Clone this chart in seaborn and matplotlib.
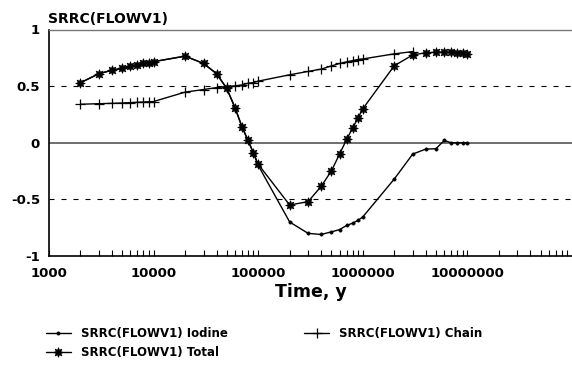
import matplotlib
matplotlib.use("Agg")
import matplotlib.pyplot as plt
from matplotlib.lines import Line2D
from matplotlib.ticker import FixedLocator, FixedFormatter, LogLocator, NullFormatter
import numpy as np
import pandas as pd
import seaborn as sns

# ---- data ----
times = [2e3, 3e3, 4e3, 5e3, 6e3, 7e3, 8e3, 9e3, 1e4,
         2e4, 3e4, 4e4, 5e4, 6e4, 7e4, 8e4, 9e4, 1e5,
         2e5, 3e5, 4e5, 5e5, 6e5, 7e5, 8e5, 9e5, 1e6,
         2e6, 3e6, 4e6, 5e6, 6e6, 7e6, 8e6, 9e6, 1e7]

iodine = [0.53, 0.61, 0.64, 0.658, 0.675, 0.69, 0.70, 0.708, 0.716,
          0.765, 0.70, 0.61, 0.48, 0.31, 0.14, 0.02, -0.09, -0.20,
          -0.70, -0.80, -0.81, -0.787, -0.767, -0.73, -0.71, -0.685, -0.655,
          -0.32, -0.10, -0.056, -0.053, 0.02, 0.0, 0.0, 0.0, 0.0]

chain = [0.34, 0.345, 0.348, 0.351, 0.354, 0.357, 0.360, 0.362, 0.364,
         0.447, 0.47, 0.487, 0.496, 0.502, 0.51, 0.526, 0.531, 0.544,
         0.60, 0.63, 0.65, 0.678, 0.70, 0.714, 0.725, 0.735, 0.74,
         0.785, 0.805, np.nan, np.nan, np.nan, np.nan, np.nan, np.nan, np.nan]

total = [0.53, 0.61, 0.64, 0.658, 0.675, 0.69, 0.70, 0.708, 0.716,
         0.765, 0.70, 0.61, 0.48, 0.31, 0.14, 0.02, -0.09, -0.19,
         -0.55, -0.52, -0.385, -0.25, -0.10, 0.03, 0.13, 0.22, 0.30,
         0.68, 0.775, 0.795, 0.80, 0.80, 0.80, 0.795, 0.79, 0.785]

series_names = ["SRRC(FLOWV1) Iodine", "SRRC(FLOWV1) Chain", "SRRC(FLOWV1) Total"]
x_major = [1e3, 1e4, 1e5, 1e6, 1e7]
x_major_labels = ["1000", "10000", "100000", "1000000", "10000000"]
y_ticks = [-1, -0.5, 0, 0.5, 1]
y_tick_labels = ["-1", "-0.5", "0", "0.5", "1"]

# ---- style ----
sns.set_theme(style="white")
plt.rcParams["font.family"] = ["DejaVu Sans"]
plt.rcParams["font.weight"] = "bold"
for key in ("text.color", "axes.labelcolor", "xtick.color", "ytick.color"):
    plt.rcParams[key] = "black"

fig = plt.figure(figsize=(5.72, 3.71), dpi=100)
ax = fig.add_axes([49 / 572, 1 - 256 / 371, 1 - 49 / 572, (256 - 29.5) / 371])

# reference lines
ax.axhline(0, color="#555555", lw=1.2, zorder=1)
for yv in (0.5, -0.5):
    ax.axhline(yv, color="black", lw=0.8, ls=(0, (4.5, 6.3)), zorder=1)

styles = {
    series_names[0]: dict(marker="o", markersize=2.4, mew=0.4),
    series_names[1]: dict(marker="+", markersize=7.5, mew=0.9),
    series_names[2]: dict(marker=(8, 1, 0), markersize=7, mew=0.5),
}
values = {series_names[0]: iodine, series_names[1]: chain, series_names[2]: total}

handles = {}
for name in series_names:
    df = pd.DataFrame({"t": times, "v": values[name]}).dropna()
    sns.lineplot(data=df, x="t", y="v", ax=ax, color="black", lw=1.0,
                 mfc="black", mec="black", estimator=None, sort=True,
                 zorder=3, **styles[name])
    handles[name] = Line2D([], [], color="black", lw=1.0, marker=styles[name]["marker"],
                           markersize=styles[name]["markersize"], mew=styles[name]["mew"],
                           mfc="black", mec="black")

ax.set_xscale("log")
ax.set_xlim(1e3, 1e8)
ax.set_ylim(-1, 1)

ax.xaxis.set_major_locator(FixedLocator(x_major))
ax.xaxis.set_major_formatter(FixedFormatter(x_major_labels))
ax.xaxis.set_minor_locator(LogLocator(base=10, subs=np.arange(2, 10), numticks=20))
ax.xaxis.set_minor_formatter(NullFormatter())
ax.tick_params(axis="x", which="both", direction="in", length=4.5, width=0.8,
               color="black", bottom=True, top=False, labelsize=9.5, pad=8,
               labelcolor="black")
ax.set_yticks(y_ticks)
ax.set_yticklabels(y_tick_labels)
ax.tick_params(axis="y", which="both", length=0, labelsize=9.5, pad=6.5, left=True,
               labelcolor="black")
for lab in ax.get_xticklabels() + ax.get_yticklabels():
    lab.set_fontweight("bold")

ax.spines["left"].set_color("black")
ax.spines["left"].set_linewidth(1.2)
ax.spines["bottom"].set_color("black")
ax.spines["bottom"].set_linewidth(1.2)
ax.spines["top"].set_color("#777777")
ax.spines["top"].set_linewidth(1.0)
ax.spines["right"].set_visible(False)

ax.set_xlabel("Time, y", fontsize=12.5, fontweight="bold", labelpad=2, color="black")
ax.set_ylabel("")

fig.text(48 / 572, 1 - 22.8 / 371, "SRRC(FLOWV1)", fontsize=10, fontweight="bold",
         ha="left", va="baseline", color="black")

order = [series_names[0], series_names[2], series_names[1]]
leg = fig.legend([handles[n] for n in order], order, loc="upper left",
                 bbox_to_anchor=(46 / 572, 1 - 327 / 371), ncol=2, frameon=False,
                 prop=dict(size=8.5, weight="bold"), handlelength=2.1, handletextpad=0.85,
                 columnspacing=6.5, labelspacing=0.55, borderpad=0, borderaxespad=0)
for txt in leg.get_texts():
    txt.set_color("black")

fig.savefig("out.png", dpi=100)
